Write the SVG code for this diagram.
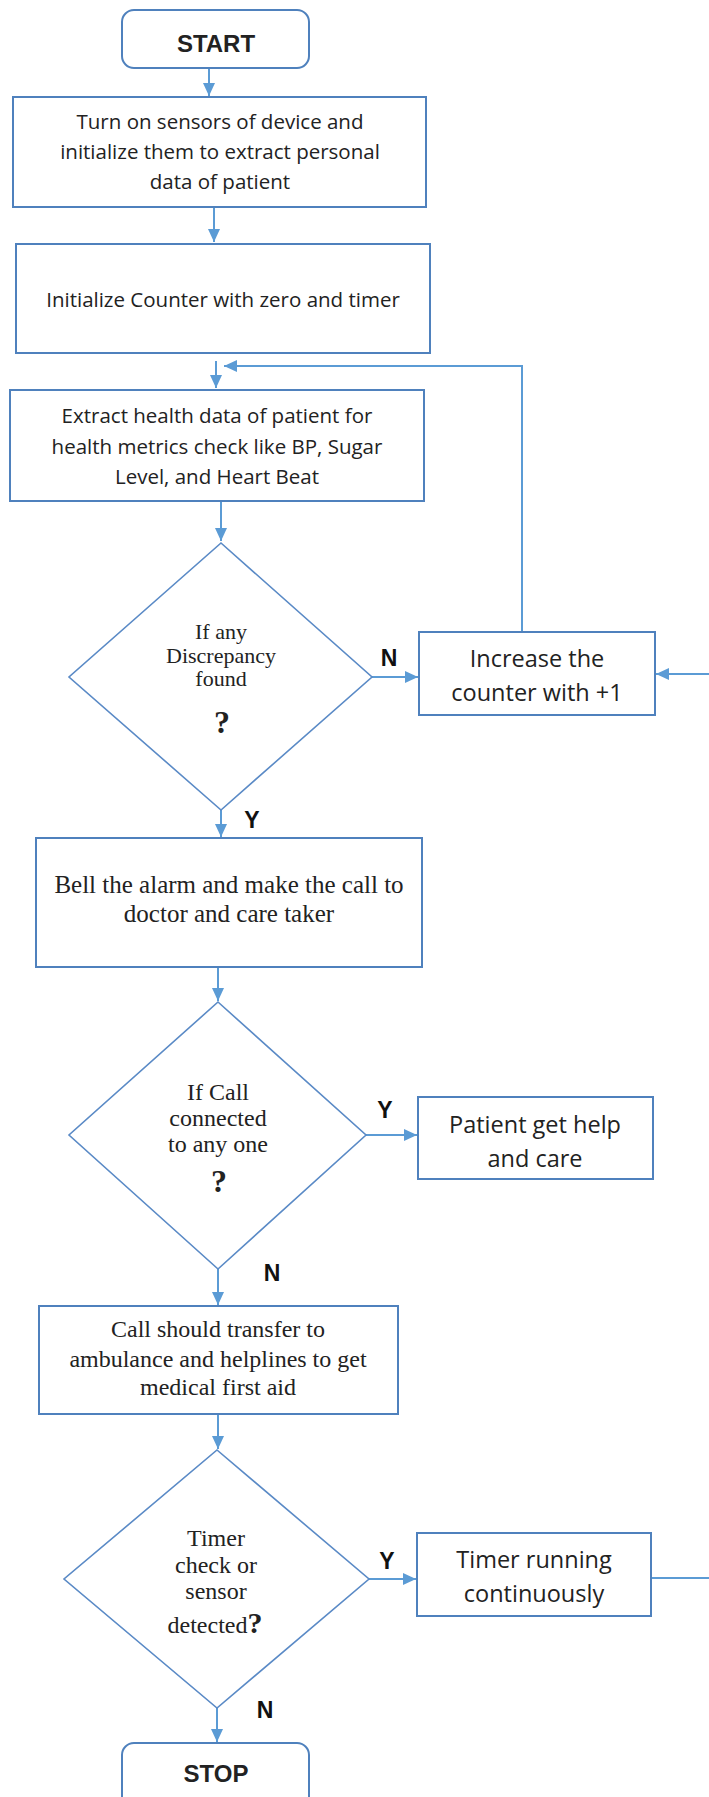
<svg xmlns="http://www.w3.org/2000/svg" width="709" height="1797" viewBox="0 0 709 1797">
<style>
.box{fill:#fff;stroke:#4f81bd;stroke-width:2}
.dia{fill:#fff;stroke:#5a8ac6;stroke-width:1.6}
.con{fill:none;stroke:#5b9bd5;stroke-width:2}
.sans{font-family:"Open Sans","Liberation Sans",sans-serif;fill:#222;text-anchor:middle}
.serif{font-family:"Liberation Serif",serif;fill:#222;text-anchor:middle}
.lbl{font-family:"Liberation Sans",sans-serif;font-weight:bold;font-size:23px;fill:#111;text-anchor:middle}
.q{font-family:"Liberation Serif",serif;font-weight:bold;font-size:32px;fill:#222;text-anchor:middle}
</style>
<defs>
<marker id="ah" markerUnits="userSpaceOnUse" markerWidth="14" markerHeight="14" viewBox="0 0 14 14" refX="13" refY="7" orient="auto">
<path d="M0,1 L13,7 L0,13 Z" fill="#5b9bd5"/>
</marker>
</defs>
<g id="connectors">
<line class="con" x1="209" y1="64" x2="209" y2="96" marker-end="url(#ah)"/>
<line class="con" x1="214" y1="207" x2="214" y2="242" marker-end="url(#ah)"/>
<line class="con" x1="216" y1="361" x2="216" y2="388" marker-end="url(#ah)"/>
<polyline class="con" points="522,632 522,366 224,366" marker-end="url(#ah)"/>
<line class="con" x1="221" y1="501" x2="221" y2="541" marker-end="url(#ah)"/>
<line class="con" x1="372" y1="677" x2="418" y2="677" marker-end="url(#ah)"/>
<line class="con" x1="709" y1="674" x2="656" y2="674" marker-end="url(#ah)"/>
<line class="con" x1="221" y1="810" x2="221" y2="837" marker-end="url(#ah)"/>
<line class="con" x1="218" y1="967" x2="218" y2="1001" marker-end="url(#ah)"/>
<line class="con" x1="366" y1="1135" x2="417" y2="1135" marker-end="url(#ah)"/>
<line class="con" x1="218" y1="1269" x2="218" y2="1305" marker-end="url(#ah)"/>
<line class="con" x1="218" y1="1414" x2="218" y2="1449" marker-end="url(#ah)"/>
<line class="con" x1="369" y1="1579" x2="416" y2="1579" marker-end="url(#ah)"/>
<line class="con" x1="651" y1="1578" x2="709" y2="1578"/>
<line class="con" x1="217" y1="1708" x2="217" y2="1742" marker-end="url(#ah)"/>
</g>
<g id="start">
<rect class="box" x="122" y="10" width="187" height="58" rx="12"/>
<text class="sans" x="216" y="52" font-size="24" font-weight="bold" style="font-family:'Liberation Sans',sans-serif">START</text>
</g>
<g id="turn-on">
<rect class="box" x="13" y="97" width="413" height="110"/>
<text class="sans" font-size="20.5" x="220" y="129">Turn on sensors of device and</text>
<text class="sans" font-size="20.5" x="220" y="159">initialize them to extract personal</text>
<text class="sans" font-size="20.5" x="220" y="189">data of patient</text>
</g>
<g id="init-counter">
<rect class="box" x="16" y="244" width="414" height="109"/>
<text class="sans" font-size="20.5" x="223" y="307">Initialize Counter with zero and timer</text>
</g>
<g id="extract">
<rect class="box" x="10" y="390" width="414" height="111"/>
<text class="sans" font-size="20.5" x="217" y="423">Extract health data of patient for</text>
<text class="sans" font-size="20.5" x="217" y="454">health metrics check like BP, Sugar</text>
<text class="sans" font-size="20.5" x="217" y="484">Level, and Heart Beat</text>
</g>
<g id="discrepancy">
<polygon class="dia" points="221,543 372,677 221,810 69,677"/>
<text class="serif" font-size="22" x="221" y="639">If any</text>
<text class="serif" font-size="22" x="221" y="663">Discrepancy</text>
<text class="serif" font-size="22" x="221" y="686">found</text>
<text class="q" x="222" y="733">?</text>
</g>
<g id="increase">
<rect class="box" x="419" y="632" width="236" height="83"/>
<text class="sans" font-size="23.5" x="537" y="667">Increase the</text>
<text class="sans" font-size="23.5" x="537" y="701">counter with +1</text>
</g>
<g id="bell">
<rect class="box" x="36" y="838" width="386" height="129"/>
<text class="serif" font-size="25" x="229" y="893">Bell the alarm and make the call to</text>
<text class="serif" font-size="25" x="229" y="922">doctor and care taker</text>
</g>
<g id="call-connected">
<polygon class="dia" points="218,1002 366,1135 218,1269 69,1135"/>
<text class="serif" font-size="24" x="218" y="1100">If Call</text>
<text class="serif" font-size="24" x="218" y="1126">connected</text>
<text class="serif" font-size="24" x="218" y="1152">to any one</text>
<text class="q" x="219" y="1192">?</text>
</g>
<g id="patient-help">
<rect class="box" x="418" y="1097" width="235" height="82"/>
<text class="sans" font-size="23.5" x="535" y="1133">Patient get help</text>
<text class="sans" font-size="23.5" x="535" y="1167">and care</text>
</g>
<g id="transfer">
<rect class="box" x="39" y="1306" width="359" height="108"/>
<text class="serif" font-size="24" x="218" y="1337">Call should transfer to</text>
<text class="serif" font-size="24" x="218" y="1367">ambulance and helplines to get</text>
<text class="serif" font-size="24" x="218" y="1395">medical first aid</text>
</g>
<g id="timer-check">
<polygon class="dia" points="217,1450 369,1579 217,1708 64,1579"/>
<text class="serif" font-size="24" x="216" y="1546">Timer</text>
<text class="serif" font-size="24" x="216" y="1573">check or</text>
<text class="serif" font-size="24" x="216" y="1599">sensor</text>
<text class="serif" font-size="24" x="215" y="1633">detected<tspan class="q" style="font-size:30px">?</tspan></text>
</g>
<g id="timer-running">
<rect class="box" x="417" y="1533" width="234" height="83"/>
<text class="sans" font-size="23.5" x="534" y="1568">Timer running</text>
<text class="sans" font-size="23.5" x="534" y="1602">continuously</text>
</g>
<g id="stop">
<rect class="box" x="122" y="1743" width="187" height="70" rx="12"/>
<text class="sans" x="216" y="1782" font-size="24" font-weight="bold" style="font-family:'Liberation Sans',sans-serif">STOP</text>
</g>
<g id="labels">
<text class="lbl" x="389" y="666">N</text>
<text class="lbl" x="252" y="828">Y</text>
<text class="lbl" x="385" y="1118">Y</text>
<text class="lbl" x="272" y="1281">N</text>
<text class="lbl" x="387" y="1569">Y</text>
<text class="lbl" x="265" y="1718">N</text>
</g>
</svg>
